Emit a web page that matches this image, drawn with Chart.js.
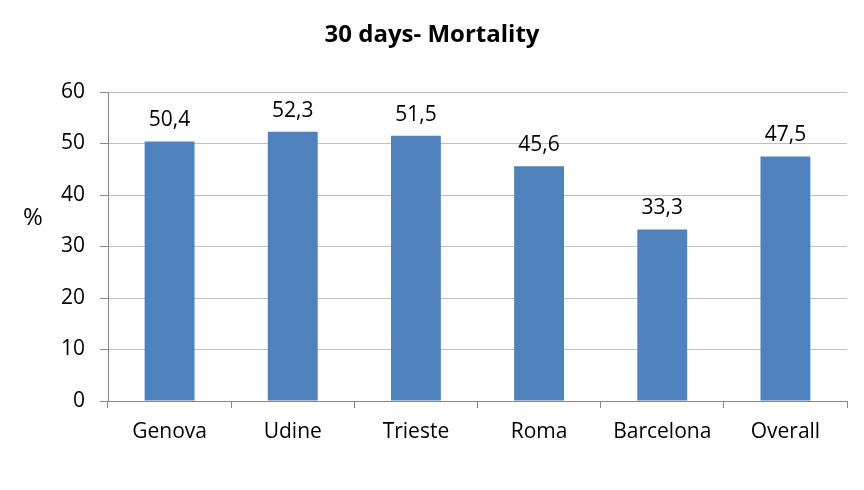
<!DOCTYPE html>
<html><head><meta charset="utf-8">
<script src="https://cdn.jsdelivr.net/npm/chart.js@4/dist/chart.umd.min.js"></script>
<style>html,body{margin:0;padding:0;background:#fff}#wrap{width:864px;height:490px}</style>
</head><body><div id="wrap"><canvas id="c" width="864" height="490"></canvas></div>
<script>
const categories = ["Genova", "Udine", "Trieste", "Roma", "Barcelona", "Overall"];
const mortality = [50.4, 52.3, 51.5, 45.6, 33.3, 47.5];
const yTicks = [0, 10, 20, 30, 40, 50, 60];
const titleText = "30 days- Mortality";
const yAxisTitle = "%";

const FONT = "'Open Sans', sans-serif";
const fmt = v => v.toFixed(1).replace('.', ',');

const extras = {
  id: 'extras',
  afterDraw(chart) {
    const ctx = chart.ctx;
    const ca = chart.chartArea;
    ctx.save();
    ctx.fillStyle = '#000';
    ctx.textAlign = 'center';
    ctx.textBaseline = 'middle';
    ctx.font = "bold 24px " + FONT;
    ctx.fillText(titleText, 432, 35);
    ctx.font = "24px " + FONT;
    ctx.fillText(yAxisTitle, 33, (ca.top + ca.bottom) / 2 - 28);
    ctx.font = "21px " + FONT;
    const meta = chart.getDatasetMeta(0);
    meta.data.forEach((el, i) => {
      ctx.fillText(fmt(mortality[i]), el.x, el.y - 21);
    });
    ctx.restore();
  }
};

new Chart(document.getElementById('c'), {
  type: 'bar',
  data: {
    labels: categories,
    datasets: [{
      data: mortality,
      backgroundColor: '#4F81BD',
      categoryPercentage: 1,
      barPercentage: 0.405
    }]
  },
  options: {
    responsive: false,
    animation: false,
    devicePixelRatio: 1,
    layout: { padding: { top: 92, right: 17, bottom: 0, left: 0 } },
    plugins: { legend: { display: false }, tooltip: { enabled: false }, title: { display: false } },
    scales: {
      x: {
        grid: { drawOnChartArea: false, offset: true, tickLength: 7, color: '#868686' },
        border: { color: '#868686' },
        ticks: { color: '#000', font: { family: FONT, size: 21 }, padding: 11 },
        afterFit(s) { s.height = 89; }
      },
      y: {
        min: 0, max: 60,
        afterBuildTicks(s) { s.ticks = yTicks.map(v => ({ value: v })); },
        grid: { color: '#BFBFBF', tickLength: 8, tickColor: '#868686' },
        border: { color: '#868686' },
        ticks: { color: '#000', font: { family: FONT, size: 21 }, padding: 15 },
        afterFit(s) { s.width = 108; }
      }
    }
  },
  plugins: [extras]
});
</script></body></html>
